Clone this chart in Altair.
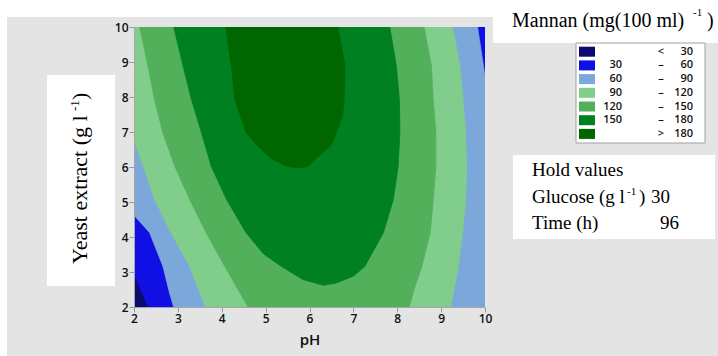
import altair as alt
import pandas as pd

# ---- contour regions (pH, yeast extract g/l): each polygon = area where Mannan >= level ----
region_names = ["<30", "30-60", "60-90", "90-120", "120-150", "150-180", ">180"]
region_colors = ["#0b0b70", "#1010e4", "#7ba7da", "#80cd8c", "#52b05a", "#008020", "#006600"]

poly_x = {
    "<30": [2, 10, 10, 2],
    "30-60": [2, 2, 10, 10, 2.32],
    "60-90": [2, 2, 9.83, 10, 10, 2.905, 2.81, 2.66, 2.36],
    "90-120": [2, 2, 2.21, 2.47, 2.85, 3.27, 3.63, 9.22, 9.39, 9.49, 9.56, 9.58, 9.56, 9.5, 9.43, 9.26],
    "120-150": [2.13, 2.32, 2.47, 2.66, 2.93, 3.27, 3.65, 4.07, 4.6,
                8.27, 8.40, 8.56, 8.75, 8.82, 8.88, 8.88, 8.82, 8.78, 8.61],
    "150-180": [2.905, 3.12, 3.31, 3.54, 3.76, 4.11, 4.56, 4.95, 5.36, 5.86, 6.31, 6.6, 7.0, 7.26,
                7.68, 7.91, 8.02, 8.06, 8.05, 7.98, 7.83],
    ">180": [4.09, 4.22, 4.30, 4.56, 4.90, 5.17, 5.47, 5.78, 5.97, 6.20, 6.47, 6.54, 6.75, 6.79,
             6.81, 6.73, 6.65],
}
poly_y = {
    "<30": [2, 2, 10, 10],
    "30-60": [2.92, 10, 10, 2, 2],
    "60-90": [4.61, 10, 10, 8.59, 2, 2, 2.40, 3.16, 4.11],
    "90-120": [10, 6.78, 6.02, 5.07, 4.11, 3.16, 2, 2, 3.16, 4.11, 5.07, 6.02, 6.97, 7.92, 8.88, 10],
    "120-150": [10, 8.88, 7.92, 6.97, 6.02, 5.07, 4.11, 3.16, 2,
                2, 2.57, 3.16, 4.11, 5.07, 6.02, 6.97, 7.92, 8.88, 10],
    "150-180": [10, 8.88, 7.92, 6.97, 6.02, 5.07, 4.11, 3.52, 3.16, 2.78, 2.62, 2.68, 2.88, 3.16,
                4.11, 5.07, 6.02, 6.97, 7.92, 8.88, 10],
    ">180": [10, 8.88, 7.92, 6.97, 6.5, 6.21, 6.02, 5.97, 6.02, 6.3, 6.59, 6.74, 7.45, 7.92,
             8.88, 9.45, 10],
}

# legend rows
leg_lo = ["", "30", "60", "90", "120", "150", ""]
leg_sep = ["<", "–", "–", "–", "–", "–", ">"]
leg_hi = ["30", "60", "90", "120", "150", "180", "180"]

x_ticks = [2, 3, 4, 5, 6, 7, 8, 9, 10]
y_ticks = [2, 3, 4, 5, 6, 7, 8, 9, 10]

rows = []
for name in region_names:
    for i, (px, py) in enumerate(zip(poly_x[name], poly_y[name])):
        rows.append({"region": name, "i": i, "ph": px, "ye": py})
poly_df = pd.DataFrame(rows)

leg_df = pd.DataFrame({"i": list(range(7)), "lo": leg_lo, "sep": leg_sep, "hi": leg_hi,
                       "col": region_colors})

one = pd.DataFrame({"a": [0]})

SANS = "Open Sans"
SERIF = "Liberation Serif"

x_axis = alt.Axis(values=x_ticks, format="d", title="pH", labelFont=SANS, labelFontWeight=600,
                  labelFontSize=12, labelColor="#111", labelFlush=False, labelPadding=1,
                  tickColor="#999", tickSize=5, domainColor="#a6a6a6", grid=False,
                  titleFont=SANS, titleFontWeight=600, titleFontSize=15, titleColor="#111",
                  titlePadding=8, zindex=1)
y_axis = alt.Axis(values=y_ticks, format="d", title=None, labelFont=SANS, labelFontWeight=600,
                  labelFontSize=12, labelColor="#111", labelFlush=False, labelPadding=1,
                  tickColor="#999", tickSize=5, domainColor="#a6a6a6", grid=False, zindex=1)
xs = alt.Scale(domain=[2, 10], nice=False, zero=False)
ys = alt.Scale(domain=[2, 10], nice=False, zero=False)

layers = []


def box(x1, x2, y1, y2, fill, stroke=None):
    kw = dict(fill=fill)
    if stroke:
        kw.update(stroke=stroke, strokeWidth=1)
    return alt.Chart(one).mark_rect(**kw).encode(
        x=alt.value(x1), x2=alt.value(x2), y=alt.value(y1), y2=alt.value(y2))


# backgrounds
layers.append(box(-127, 584, -10, 329, "#e4e4e4"))
layers.append(box(359, 584, -28, 16, "#ffffff"))
layers.append(box(-87, -19, 48, 259, "#ffffff"))
layers.append(box(442, 571, 16, 116, "#ffffff", "#a0a0a0"))
layers.append(box(379, 581, 128, 212, "#ffffff"))

# contour polygons (painter's order)
for name, col in zip(region_names, region_colors):
    layers.append(
        alt.Chart(poly_df).transform_filter(alt.datum.region == name)
        .mark_line(fill=col, stroke=col, strokeWidth=0.8, clip=True)
        .encode(x=alt.X("ph:Q", scale=xs, axis=x_axis),
                y=alt.Y("ye:Q", scale=ys, axis=y_axis),
                order=alt.Order("i:Q"))
    )

# legend
leg = alt.Chart(leg_df).transform_calculate(
    py="24.7 + datum.i * 13.7", py0="24.7 + datum.i * 13.7 - 5", py1="24.7 + datum.i * 13.7 + 5")
layers.append(leg.mark_rect().encode(
    x=alt.value(445), x2=alt.value(461),
    y=alt.Y("py0:Q", scale=None, axis=None), y2="py1:Q",
    fill=alt.Fill("col:N", scale=None, legend=None)))
ltxt = dict(font=SANS, fontWeight=600, fontSize=11, color="#111", baseline="middle")
layers.append(leg.mark_text(align="right", **ltxt).encode(
    x=alt.value(488), y=alt.Y("py:Q", scale=None, axis=None), text="lo:N"))
layers.append(leg.mark_text(align="center", **ltxt).encode(
    x=alt.value(527), y=alt.Y("py:Q", scale=None, axis=None), text="sep:N"))
layers.append(leg.mark_text(align="right", **ltxt).encode(
    x=alt.value(559), y=alt.Y("py:Q", scale=None, axis=None), text="hi:N"))


def txt(s, x, y, size, angle=0, align="left"):
    return alt.Chart(one).mark_text(font=SERIF, fontSize=size, color="#000", align=align,
                                    baseline="alphabetic", angle=angle).encode(
        x=alt.value(x), y=alt.value(y), text=alt.value(s))


# legend title
layers.append(txt("Mannan (mg(100 ml)", 378, 0, 20))
layers.append(txt("-1", 559, -11, 11))
layers.append(txt(")", 573, 0, 20))

# y title (rotated)
layers.append(txt("Yeast extract (g l", -47, 237, 22, angle=270))
layers.append(txt("-1", -55, 84, 13, angle=270))
layers.append(txt(")", -47, 73, 22, angle=270))

# hold values
layers.append(txt("Hold values", 398, 149, 19))
layers.append(txt("Glucose (g l", 398, 176, 19))
layers.append(txt("-1", 493, 168, 11))
layers.append(txt(")", 505, 176, 19))
layers.append(txt("30", 517, 176, 19))
layers.append(txt("Time (h)", 398, 202, 19))
layers.append(txt("96", 526, 202, 19))

chart = alt.layer(*layers).properties(
    width=351, height=280, autosize="none",
    padding={"left": 134, "top": 27, "right": 233, "bottom": 49},
    background="#ffffff",
).configure_view(stroke="#a6a6a6", strokeWidth=1.5)

chart.save("out.html", embed_options={"renderer": "svg", "actions": False})
